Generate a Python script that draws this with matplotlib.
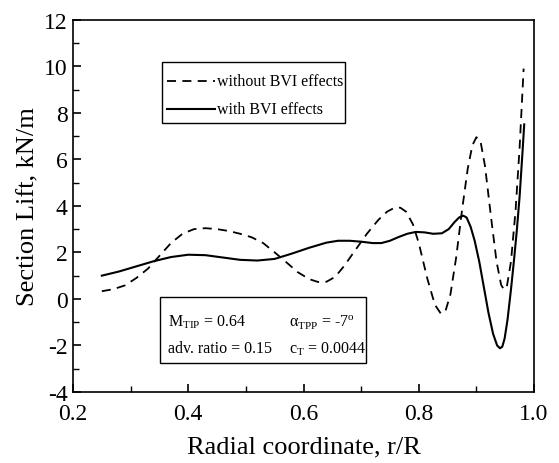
import numpy as np
import matplotlib.pyplot as plt
from matplotlib.patches import Rectangle
from matplotlib.ticker import MultipleLocator

plt.rcParams['font.family'] = ['Liberation Serif', 'DejaVu Serif']
plt.rcParams['mathtext.fontset'] = 'custom'
plt.rcParams['mathtext.rm'] = 'Liberation Serif'
plt.rcParams['axes.unicode_minus'] = False

# section lift without BVI effects
r_no_bvi = [0.25, 0.27, 0.29, 0.31, 0.33, 0.35, 0.37, 0.39, 0.41, 0.43, 0.45,
            0.47, 0.49, 0.51, 0.53, 0.55, 0.57, 0.59, 0.61, 0.625, 0.64, 0.655,
            0.67, 0.69, 0.71, 0.73, 0.745, 0.758, 0.768, 0.778, 0.79, 0.80,
            0.815, 0.828, 0.838, 0.846, 0.855, 0.865, 0.875, 0.885, 0.893,
            0.90, 0.907, 0.915, 0.925, 0.935, 0.943, 0.948, 0.953, 0.96,
            0.968, 0.975, 0.982]
lift_no_bvi = [0.33, 0.42, 0.58, 0.90, 1.30, 1.85, 2.40, 2.80, 3.00, 3.04, 3.00,
               2.92, 2.80, 2.65, 2.40, 2.00, 1.58, 1.15, 0.85, 0.73, 0.74, 0.95,
               1.40, 2.10, 2.80, 3.40, 3.75, 3.92, 3.92, 3.75, 3.20, 2.40,
               0.86, -0.25, -0.62, -0.55, 0.20, 1.80, 3.80, 5.60, 6.60,
               6.95, 6.80, 5.70, 3.60, 1.60, 0.60, 0.40, 0.55, 1.60,
               3.80, 6.50, 9.90]

# section lift with BVI effects
r_bvi = [0.25, 0.28, 0.31, 0.34, 0.37, 0.40, 0.43, 0.46, 0.49, 0.52, 0.55,
         0.58, 0.61, 0.64, 0.66, 0.68, 0.70, 0.72, 0.735, 0.75, 0.765, 0.78,
         0.795, 0.81, 0.825, 0.84, 0.852, 0.862, 0.87, 0.877, 0.883, 0.89,
         0.897, 0.905, 0.913, 0.921, 0.929, 0.936, 0.941, 0.945, 0.949,
         0.954, 0.96, 0.965, 0.97, 0.975, 0.98, 0.983]
lift_bvi = [1.00, 1.18, 1.40, 1.62, 1.80, 1.90, 1.88, 1.78, 1.68, 1.65, 1.72,
            1.95, 2.20, 2.42, 2.50, 2.50, 2.46, 2.40, 2.40, 2.50, 2.66, 2.80,
            2.88, 2.86, 2.80, 2.82, 3.00, 3.30, 3.50, 3.58, 3.50, 3.10,
            2.50, 1.60, 0.50, -0.60, -1.50, -2.00, -2.12, -2.05, -1.70,
            -0.90, 0.40, 1.60, 2.90, 4.40, 6.30, 7.50]

fig = plt.figure(figsize=(5.59, 4.64), dpi=100)
ax = fig.add_axes([0.1306, 0.153, 0.8247, 0.8024])

ax.plot(r_no_bvi, lift_no_bvi, color='black', lw=1.3, ls=(0, (5, 3.5)))
ax.plot(r_bvi, lift_bvi, color='black', lw=1.5)

ax.set_xlim(0.2, 1.0)
ax.set_ylim(-4, 12)
ax.xaxis.set_major_locator(MultipleLocator(0.2))
ax.xaxis.set_minor_locator(MultipleLocator(0.1))
ax.yaxis.set_major_locator(MultipleLocator(2))
ax.yaxis.set_minor_locator(MultipleLocator(1))
ax.xaxis.set_major_formatter(plt.FuncFormatter(lambda v, p: f'{v:.1f}'))
ax.tick_params(which='both', direction='in', labelsize=17, top=False, right=False)
ax.tick_params(which='major', length=6, width=1.2)
ax.tick_params(which='minor', length=4, width=1.0)
ax.tick_params(axis='x', pad=8)
ax.tick_params(axis='y', pad=4)
for s in ax.spines.values():
    s.set_linewidth(1.2)

ax.set_xlabel('Radial coordinate, r/R', fontsize=19, labelpad=8)
ax.set_ylabel('Section Lift, kN/m', fontsize=19, labelpad=3)

# legend drawn by hand in axes coordinates
ax.add_patch(Rectangle((0.193, 0.7225), 0.397, 0.1635, transform=ax.transAxes,
                       fill=False, edgecolor='black', lw=1.0))
ax.plot([0.204, 0.308], [0.835, 0.835], transform=ax.transAxes, color='black',
        lw=1.3, ls=(0, (5, 3.5)))
ax.plot([0.204, 0.308], [0.759, 0.759], transform=ax.transAxes, color='black',
        lw=1.5)
ax.text(0.312, 0.835, 'without BVI effects', transform=ax.transAxes,
        fontsize=11.5, va='center')
ax.text(0.312, 0.759, 'with BVI effects', transform=ax.transAxes,
        fontsize=11.5, va='center')

# flight condition box
ax.add_patch(Rectangle((0.189, 0.078), 0.447, 0.177, transform=ax.transAxes,
                       fill=False, edgecolor='black', lw=1.0))
ax.text(0.206, 0.189, r'M$_{\rm TIP}$ = 0.64', transform=ax.transAxes,
        fontsize=11.5, va='center')
ax.text(0.469, 0.189, r'α$_{\rm TPP}$ = -7$^{\rm o}$', transform=ax.transAxes,
        fontsize=11.5, va='center')
ax.text(0.206, 0.119, 'adv. ratio = 0.15', transform=ax.transAxes,
        fontsize=11.5, va='center')
ax.text(0.469, 0.119, r'c$_{\rm T}$ = 0.0044', transform=ax.transAxes,
        fontsize=11.5, va='center')

fig.savefig('out.png', dpi=100)
